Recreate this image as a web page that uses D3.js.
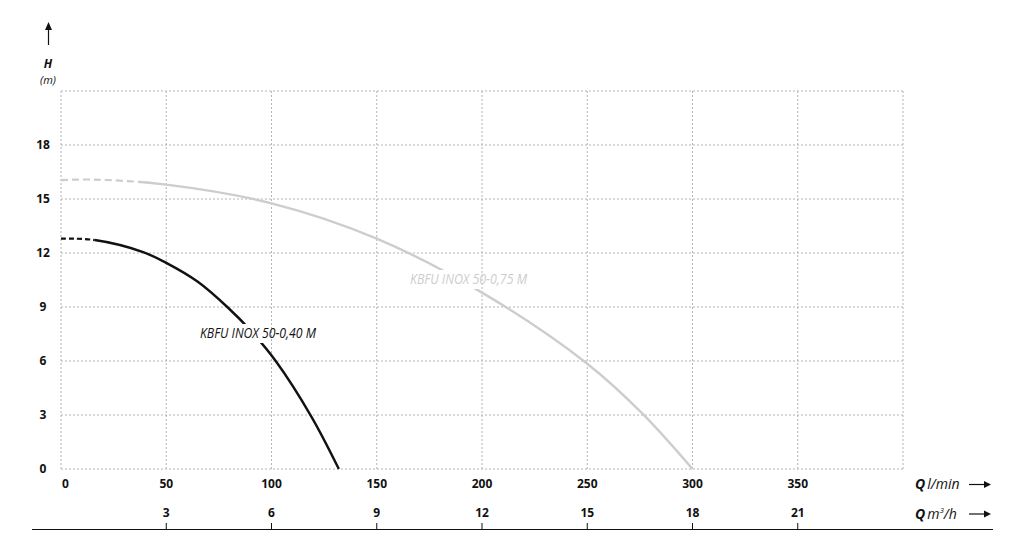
<!DOCTYPE html>
<html>
<head>
<meta charset="utf-8">
<script src="https://cdn.jsdelivr.net/npm/d3@7"></script>
<style>
  html, body { margin: 0; padding: 0; background: #fff; }
  svg { display: block; font-family: "Open Sans", "DejaVu Sans", sans-serif; }
</style>
</head>
<body>
<svg id="chart" width="1024" height="557"></svg>
<script>
// ---- data ----
const qTicks = [0, 50, 100, 150, 200, 250, 300, 350];
const m3hTicks = [3, 6, 9, 12, 15, 18, 21];
const hTicks = [0, 3, 6, 9, 12, 15, 18];

const pump040Q = [0, 16, 39, 50, 65, 79, 90, 102, 119, 132];
const pump040H = [12.8, 12.72, 12.05, 11.45, 10.4, 9, 7.7, 6, 2.9, 0];
const pump040Name = "KBFU INOX 50-0,40 M";
const pump040DashEnd = 16;

const pump075Q = [0, 15, 50, 100, 150, 200, 250, 276, 300];
const pump075H = [16.05, 16.08, 15.8, 14.76, 12.8, 9.8, 5.85, 3.1, 0];
const pump075Name = "KBFU INOX 50-0,75 M";
const pump075DashEnd = 37;

// ---- layout ----
const svg = d3.select("#chart");
const L = 61, R = 903, T = 91, B = 469;
const x = d3.scaleLinear().domain([0, 400]).range([L, R]);
const y = d3.scaleLinear().domain([0, 21]).range([B, T]);
const xm = d3.scaleLinear().domain([0, 24]).range([L, R]); // m3/h (1 m3/h = 50/3 l/min)

const gridColor = "#b4b4b4";

// grid
const grid = svg.append("g");
const xGrid = qTicks.concat([400]);
grid.selectAll("line.v").data(xGrid).join("line")
  .attr("x1", d => x(d)).attr("x2", d => x(d))
  .attr("y1", T).attr("y2", B)
  .attr("stroke", gridColor).attr("stroke-width", 1).attr("stroke-dasharray", "2,2");
const yGrid = hTicks.concat([21]);
grid.selectAll("line.h").data(yGrid).join("line")
  .attr("x1", L).attr("x2", R)
  .attr("y1", d => y(d)).attr("y2", d => y(d))
  .attr("stroke", gridColor).attr("stroke-width", 1).attr("stroke-dasharray", "2,2");

// Y tick labels
svg.append("g").selectAll("text").data(hTicks).join("text")
  .attr("x", 43).attr("y", d => y(d)).attr("dy", "0.35em")
  .attr("text-anchor", "middle").attr("font-size", 12).attr("font-weight", "bold")
  .attr("fill", "#111").text(d => d);

// X tick labels (l/min)
svg.append("g").selectAll("text").data(qTicks).join("text")
  .attr("x", d => d === 0 ? x(d) + 1 : x(d)).attr("y", 488)
  .attr("text-anchor", d => d === 0 ? "start" : "middle")
  .attr("font-size", 12).attr("font-weight", "bold").attr("fill", "#111").text(d => d);

// second axis (m3/h)
svg.append("line").attr("x1", 32).attr("x2", 993).attr("y1", 529.5).attr("y2", 529.5)
  .attr("stroke", "#111").attr("stroke-width", 1.2);
svg.append("g").selectAll("line").data(m3hTicks).join("line")
  .attr("x1", d => xm(d)).attr("x2", d => xm(d)).attr("y1", 523).attr("y2", 529.5)
  .attr("stroke", "#111").attr("stroke-width", 1);
svg.append("g").selectAll("text").data(m3hTicks).join("text")
  .attr("x", d => xm(d)).attr("y", 517).attr("text-anchor", "middle")
  .attr("font-size", 12).attr("font-weight", "bold").attr("fill", "#111").text(d => d);

// axis titles
function arrowRight(yy) {
  svg.append("line").attr("x1", 969).attr("x2", 985).attr("y1", yy).attr("y2", yy)
    .attr("stroke", "#111").attr("stroke-width", 1.2);
  svg.append("path").attr("d", `M984,${yy - 3.5} L991,${yy} L984,${yy + 3.5} Z`).attr("fill", "#111");
}
const t1 = svg.append("text").attr("x", 915).attr("y", 489).attr("font-size", 14).attr("fill", "#111");
t1.append("tspan").attr("font-weight", "bold").attr("font-style", "italic").text("Q");
t1.append("tspan").attr("font-style", "italic").attr("dx", 2).text("l/min");
arrowRight(484.5);
const t2 = svg.append("text").attr("x", 915).attr("y", 519).attr("font-size", 14).attr("fill", "#111");
t2.append("tspan").attr("font-weight", "bold").attr("font-style", "italic").text("Q");
t2.append("tspan").attr("font-style", "italic").attr("dx", 2).text("m");
t2.append("tspan").attr("font-style", "italic").attr("font-size", 8).attr("dy", -6).text("3");
t2.append("tspan").attr("font-style", "italic").attr("dy", 6).text("/h");
arrowRight(514);

// H arrow
svg.append("line").attr("x1", 48.5).attr("x2", 48.5).attr("y1", 45).attr("y2", 28)
  .attr("stroke", "#111").attr("stroke-width", 1.2);
svg.append("path").attr("d", "M45,30 L48.5,22 L52,30 Z").attr("fill", "#111");
svg.append("text").attr("x", 48).attr("y", 68).attr("text-anchor", "middle")
  .attr("font-size", 12).attr("font-weight", "bold").attr("font-style", "italic").attr("fill", "#111").text("H");
svg.append("text").attr("x", 48).attr("y", 84).attr("text-anchor", "middle")
  .attr("font-size", 11).attr("font-style", "italic").attr("fill", "#111").text("(m)");

// curves
const defs = svg.append("defs");
const line = d3.line().x(d => x(d[0])).y(d => y(d[1])).curve(d3.curveCatmullRom.alpha(0.5));

function drawPump(id, Q, H, name, dashEnd, color, dash, labelX, labelY, labelW) {
  const pts = Q.map((q, i) => [q, H[i]]);
  const label = svg.append("text").attr("x", labelX).attr("y", labelY)
    .attr("font-size", 14).attr("font-style", "italic").attr("fill", color)
    .attr("textLength", labelW).attr("lengthAdjust", "spacingAndGlyphs").text(name);
  const bb = label.node().getBBox();
  const pad = 2;
  const mSolid = defs.append("mask").attr("id", id + "solid").attr("maskUnits", "userSpaceOnUse")
    .attr("x", 0).attr("y", 0).attr("width", 1024).attr("height", 557);
  mSolid.append("rect").attr("x", x(dashEnd)).attr("y", 0).attr("width", 1024).attr("height", 557).attr("fill", "#fff");
  mSolid.append("rect").attr("x", bb.x - pad).attr("y", bb.y + 1)
    .attr("width", bb.width + 2 * pad).attr("height", bb.height).attr("fill", "#000");
  const mDash = defs.append("mask").attr("id", id + "dash").attr("maskUnits", "userSpaceOnUse")
    .attr("x", 0).attr("y", 0).attr("width", 1024).attr("height", 557);
  mDash.append("rect").attr("x", 0).attr("y", 0).attr("width", x(dashEnd)).attr("height", 557).attr("fill", "#fff");

  svg.append("path").attr("d", line(pts)).attr("fill", "none").attr("stroke", color)
    .attr("stroke-width", 2.4).attr("mask", `url(#${id}solid)`);
  svg.append("path").attr("d", line(pts)).attr("fill", "none").attr("stroke", color)
    .attr("stroke-width", 2.2).attr("stroke-dasharray", dash).attr("mask", `url(#${id}dash)`);
}

drawPump("p075", pump075Q, pump075H, pump075Name, pump075DashEnd, "#cdcdcd", "7,4", 410, 284, 117);
drawPump("p040", pump040Q, pump040H, pump040Name, pump040DashEnd, "#111", "5,3", 200, 338, 116);
</script>
</body>
</html>
